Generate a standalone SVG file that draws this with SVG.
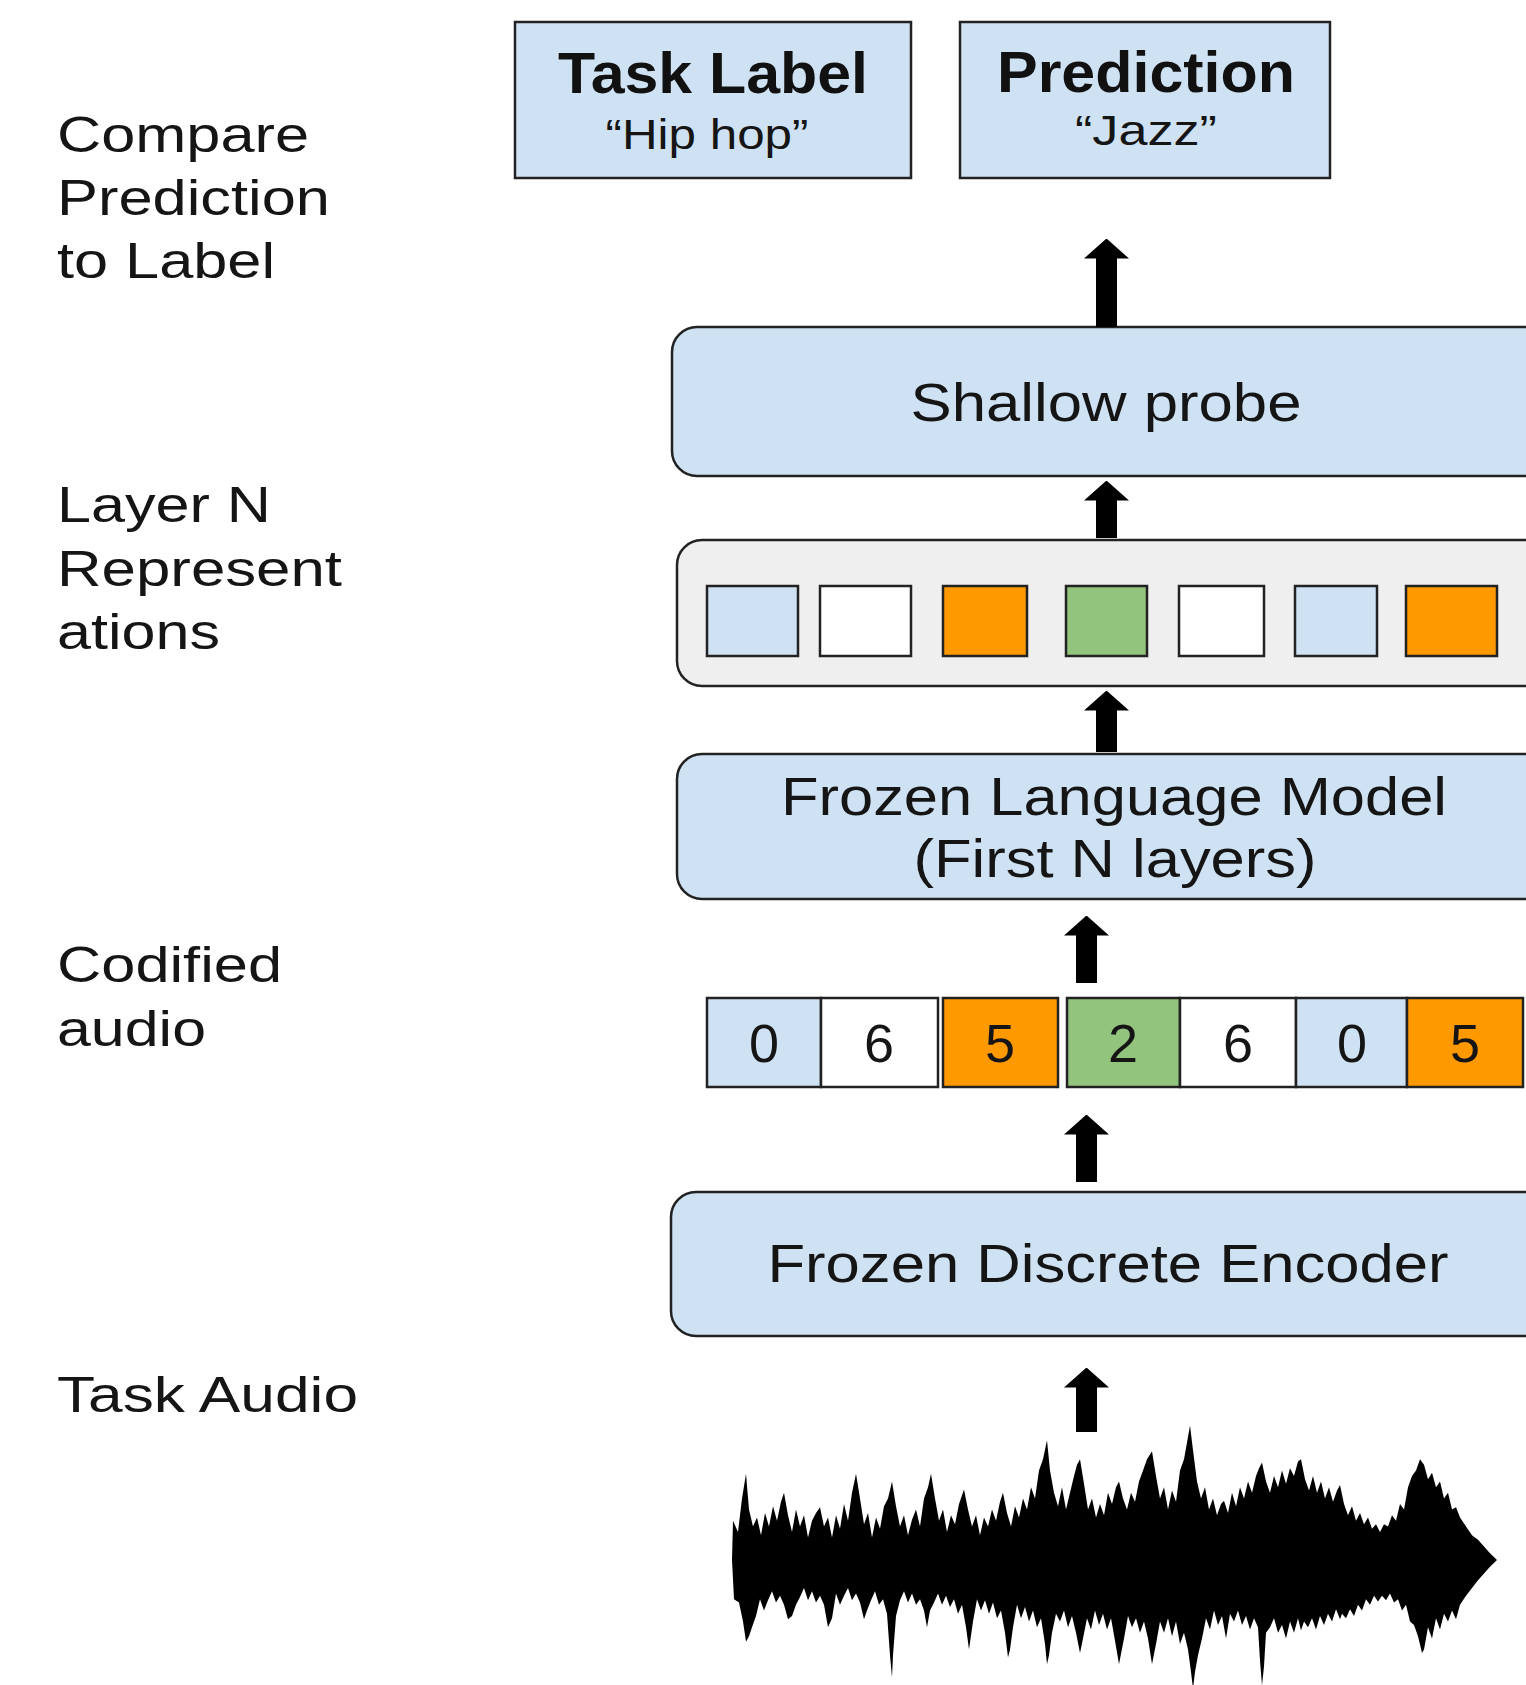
<svg xmlns="http://www.w3.org/2000/svg" width="1526" height="1685" viewBox="0 0 1526 1685">
<style>
  .lbl { font-family: "Liberation Sans", Arial, sans-serif; font-size: 50px; fill: #151515; }
  .t { font-family: "Liberation Sans", Arial, sans-serif; font-size: 54px; fill: #151515; text-anchor: middle; }
  .tb { font-family: "Liberation Sans", Arial, sans-serif; font-size: 57px; font-weight: bold; fill: #111; text-anchor: middle; }
  .ts { font-family: "Liberation Sans", Arial, sans-serif; font-size: 42px; fill: #151515; text-anchor: middle; }
  .blue { fill: #cfe2f3; }
  .white { fill: #ffffff; }
  .orange { fill: #ff9900; }
  .green { fill: #93c47d; }
  .box { stroke: #222; stroke-width: 2.5; }
  .cell { stroke: #222; stroke-width: 2.5; }
  .conn { stroke: #000; stroke-width: 21; fill: none; marker-end: url(#ah); }
</style>
<defs>
  <marker id="ah" markerUnits="userSpaceOnUse" markerWidth="20" markerHeight="45" viewBox="0 0 20 45" refX="0.5" refY="22.5" orient="auto">
    <path d="M0,0 L20,22.5 L0,45 Z" fill="#000"/>
  </marker>
</defs>
<rect width="1526" height="1685" fill="#ffffff"/>

<g id="side-labels">
  <text class="lbl" x="57" y="152" textLength="252" lengthAdjust="spacingAndGlyphs">Compare</text>
  <text class="lbl" x="57" y="215" textLength="273" lengthAdjust="spacingAndGlyphs">Prediction</text>
  <text class="lbl" x="57" y="278" textLength="218" lengthAdjust="spacingAndGlyphs">to Label</text>
  <text class="lbl" x="57" y="522" textLength="214" lengthAdjust="spacingAndGlyphs">Layer N</text>
  <text class="lbl" x="57" y="586" textLength="285" lengthAdjust="spacingAndGlyphs">Represent</text>
  <text class="lbl" x="57" y="649" textLength="163" lengthAdjust="spacingAndGlyphs">ations</text>
  <text class="lbl" x="57" y="982" textLength="225" lengthAdjust="spacingAndGlyphs">Codified</text>
  <text class="lbl" x="57" y="1046" textLength="149" lengthAdjust="spacingAndGlyphs">audio</text>
  <text class="lbl" x="57" y="1412" textLength="301" lengthAdjust="spacingAndGlyphs">Task Audio</text>
</g>

<g id="task-label">
  <rect class="box blue" x="515" y="22" width="396" height="156"/>
  <text class="tb" x="713" y="93" textLength="310" lengthAdjust="spacingAndGlyphs">Task Label</text>
  <text class="ts" x="707" y="149" textLength="203" lengthAdjust="spacingAndGlyphs">“Hip hop”</text>
</g>

<g id="prediction">
  <rect class="box blue" x="960" y="22" width="370" height="156"/>
  <text class="tb" x="1146" y="92" textLength="298" lengthAdjust="spacingAndGlyphs">Prediction</text>
  <text class="ts" x="1146" y="145" textLength="142" lengthAdjust="spacingAndGlyphs">“Jazz”</text>
</g>

<g id="shallow-probe">
  <rect class="box blue" x="672" y="327" width="900" height="149" rx="25" ry="25"/>
  <text class="t" x="1106" y="421" textLength="391" lengthAdjust="spacingAndGlyphs">Shallow probe</text>
</g>

<g id="layer-n-representations">
  <rect class="box" fill="#efefef" x="677" y="540" width="900" height="146" rx="25" ry="25"/>
  <rect class="cell blue" x="707" y="586" width="91" height="70"/>
  <rect class="cell white" x="820" y="586" width="91" height="70"/>
  <rect class="cell orange" x="943" y="586" width="84" height="70"/>
  <rect class="cell green" x="1066" y="586" width="81" height="70"/>
  <rect class="cell white" x="1179" y="586" width="85" height="70"/>
  <rect class="cell blue" x="1295" y="586" width="82" height="70"/>
  <rect class="cell orange" x="1406" y="586" width="91" height="70"/>
</g>

<g id="frozen-language-model">
  <rect class="box blue" x="677" y="754" width="900" height="145" rx="25" ry="25"/>
  <text class="t" x="1114" y="815" textLength="666" lengthAdjust="spacingAndGlyphs">Frozen Language Model</text>
  <text class="t" x="1115" y="877" textLength="403" lengthAdjust="spacingAndGlyphs">(First N layers)</text>
</g>

<g id="codified-audio">
  <rect class="cell blue" x="707" y="998" width="114" height="89"/>
  <rect class="cell white" x="821" y="998" width="117" height="89"/>
  <rect class="cell orange" x="943" y="998" width="115" height="89"/>
  <rect class="cell green" x="1067" y="998" width="113" height="89"/>
  <rect class="cell white" x="1180" y="998" width="116" height="89"/>
  <rect class="cell blue" x="1296" y="998" width="111" height="89"/>
  <rect class="cell orange" x="1407" y="998" width="116" height="89"/>
  <text class="t" x="764" y="1062">0</text>
  <text class="t" x="879" y="1062">6</text>
  <text class="t" x="1000" y="1062">5</text>
  <text class="t" x="1123" y="1062">2</text>
  <text class="t" x="1238" y="1062">6</text>
  <text class="t" x="1352" y="1062">0</text>
  <text class="t" x="1465" y="1062">5</text>
</g>

<g id="frozen-discrete-encoder">
  <rect class="box blue" x="671" y="1192" width="900" height="144" rx="25" ry="25"/>
  <text class="t" x="1108" y="1282" textLength="681" lengthAdjust="spacingAndGlyphs">Frozen Discrete Encoder</text>
</g>

<g id="task-audio-waveform" transform="translate(0,1560) scale(1,1.12) translate(0,-1560)">
  <path fill="#000" d="M732,1560 L733,1525 L738,1535 L742,1505 L746,1483 L749,1515 L753,1530 L757,1522 L761,1538 L765,1518 L769,1530 L773,1512 L777,1525 L781,1508 L784,1500 L788,1520 L792,1535 L796,1515 L800,1530 L804,1520 L808,1540 L812,1525 L816,1518 L820,1513 L824,1530 L828,1522 L832,1540 L836,1520 L840,1532 L844,1510 L848,1525 L852,1500 L856,1483 L860,1505 L864,1528 L868,1518 L872,1540 L876,1522 L880,1532 L884,1512 L888,1505 L892,1490 L896,1512 L900,1530 L904,1520 L908,1538 L912,1524 L916,1515 L920,1530 L924,1505 L928,1495 L931,1483 L935,1505 L939,1525 L943,1515 L947,1535 L951,1520 L955,1528 L959,1510 L964,1497 L968,1515 L972,1530 L976,1520 L980,1538 L984,1522 L988,1530 L992,1515 L996,1525 L1000,1508 L1003,1500 L1007,1518 L1011,1530 L1015,1512 L1019,1522 L1023,1505 L1027,1515 L1031,1495 L1035,1505 L1039,1480 L1043,1470 L1047,1453 L1050,1480 L1054,1500 L1058,1512 L1062,1495 L1066,1515 L1070,1500 L1074,1485 L1077,1475 L1080,1470 L1084,1492 L1088,1515 L1092,1505 L1096,1522 L1100,1510 L1104,1520 L1108,1500 L1112,1510 L1116,1495 L1119,1490 L1123,1505 L1127,1515 L1131,1500 L1135,1508 L1139,1490 L1143,1480 L1147,1470 L1152,1463 L1156,1485 L1160,1505 L1164,1495 L1168,1515 L1172,1498 L1176,1508 L1180,1480 L1184,1470 L1187,1455 L1190,1440 L1193,1462 L1197,1490 L1201,1505 L1205,1495 L1209,1515 L1213,1505 L1217,1520 L1221,1510 L1224,1507 L1228,1518 L1232,1500 L1236,1512 L1240,1495 L1244,1505 L1248,1490 L1252,1500 L1256,1485 L1259,1478 L1262,1473 L1266,1490 L1270,1500 L1274,1485 L1278,1495 L1282,1480 L1286,1492 L1290,1478 L1294,1485 L1298,1472 L1301,1470 L1305,1488 L1309,1498 L1313,1485 L1317,1500 L1321,1490 L1325,1505 L1329,1495 L1333,1508 L1337,1498 L1340,1493 L1344,1510 L1348,1520 L1352,1512 L1356,1525 L1360,1518 L1364,1528 L1368,1522 L1372,1532 L1376,1528 L1380,1535 L1384,1528 L1388,1530 L1392,1520 L1396,1525 L1400,1510 L1404,1515 L1408,1495 L1412,1485 L1416,1480 L1420,1470 L1424,1475 L1428,1488 L1432,1482 L1436,1495 L1440,1490 L1444,1505 L1448,1500 L1452,1515 L1456,1513 L1460,1522 L1466,1530 L1472,1538 L1478,1542 L1484,1548 L1490,1554 L1497,1560 L1490,1566 L1484,1572 L1478,1578 L1472,1585 L1466,1592 L1460,1600 L1456,1613 L1452,1605 L1448,1615 L1444,1608 L1440,1622 L1436,1612 L1432,1630 L1428,1620 L1424,1640 L1422,1643 L1418,1628 L1414,1618 L1410,1615 L1406,1600 L1402,1605 L1398,1595 L1394,1598 L1390,1590 L1386,1596 L1382,1592 L1378,1597 L1374,1592 L1370,1600 L1366,1595 L1362,1605 L1358,1600 L1354,1610 L1350,1604 L1346,1612 L1342,1608 L1340,1613 L1336,1604 L1332,1615 L1328,1608 L1324,1618 L1320,1610 L1316,1622 L1312,1612 L1308,1620 L1304,1615 L1301,1623 L1298,1612 L1294,1625 L1290,1615 L1286,1630 L1282,1618 L1278,1625 L1274,1612 L1270,1620 L1266,1625 L1264,1655 L1262,1672 L1260,1650 L1258,1620 L1254,1612 L1250,1622 L1246,1610 L1242,1618 L1238,1605 L1234,1615 L1230,1608 L1226,1630 L1222,1610 L1218,1618 L1214,1605 L1210,1622 L1206,1612 L1202,1630 L1198,1645 L1195,1660 L1193,1675 L1191,1660 L1188,1640 L1184,1625 L1180,1635 L1176,1615 L1172,1628 L1168,1612 L1164,1625 L1160,1615 L1156,1635 L1152,1653 L1148,1630 L1144,1615 L1140,1625 L1136,1612 L1132,1620 L1128,1610 L1124,1630 L1119,1653 L1115,1632 L1111,1612 L1107,1622 L1103,1608 L1099,1618 L1095,1605 L1091,1622 L1087,1612 L1083,1630 L1080,1643 L1076,1625 L1072,1610 L1068,1620 L1064,1605 L1060,1615 L1056,1608 L1052,1625 L1049,1645 L1047,1653 L1045,1635 L1041,1612 L1037,1620 L1033,1605 L1029,1615 L1025,1602 L1021,1612 L1017,1600 L1013,1620 L1010,1640 L1008,1647 L1005,1625 L1001,1605 L997,1612 L993,1598 L989,1608 L985,1596 L981,1605 L977,1595 L973,1615 L969,1640 L966,1620 L962,1600 L958,1608 L954,1595 L950,1602 L946,1592 L942,1600 L938,1590 L934,1598 L930,1605 L927,1620 L924,1605 L920,1595 L916,1600 L912,1590 L908,1598 L904,1588 L900,1596 L896,1610 L893,1645 L892,1665 L890,1645 L887,1608 L883,1595 L879,1600 L875,1588 L871,1596 L867,1605 L864,1613 L860,1598 L856,1590 L852,1596 L848,1585 L844,1592 L840,1600 L836,1590 L832,1612 L828,1620 L824,1600 L820,1592 L816,1598 L812,1588 L808,1596 L804,1585 L800,1593 L796,1600 L792,1610 L788,1613 L784,1600 L780,1592 L776,1598 L772,1588 L768,1596 L764,1605 L760,1595 L756,1610 L752,1620 L749,1628 L746,1633 L743,1615 L739,1598 L734,1595 Z"/>
</g>

<g id="connectors">
  <line class="conn" x1="1106.5" y1="327" x2="1106.5" y2="258"/>
  <line class="conn" x1="1106.5" y1="538" x2="1106.5" y2="500"/>
  <line class="conn" x1="1106.5" y1="752" x2="1106.5" y2="710"/>
  <line class="conn" x1="1086.5" y1="983" x2="1086.5" y2="935"/>
  <line class="conn" x1="1086.5" y1="1182" x2="1086.5" y2="1134"/>
  <line class="conn" x1="1086.5" y1="1432" x2="1086.5" y2="1387"/>
</g>
</svg>
